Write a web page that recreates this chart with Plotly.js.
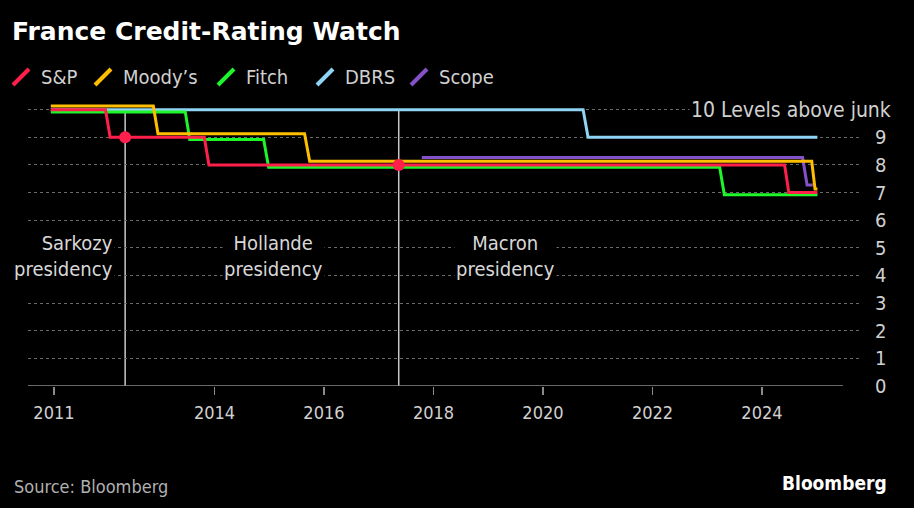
<!DOCTYPE html>
<html>
<head>
<meta charset="utf-8">
<script src="https://cdn.plot.ly/plotly-3.0.1.min.js"></script>
<style>
html,body{margin:0;padding:0;background:#000;}
#chart{width:914px;height:508px;}
</style>
</head>
<body>
<div id="chart"></div>
<script>
// ---- Data ----
const seriesNames = ['S&P', 'Moody\u2019s', 'Fitch', 'DBRS', 'Scope'];

const spDates = ['2011-01-05','2012-01-05','2012-02-05','2013-10-25','2013-11-25','2024-05-31','2024-06-28','2025-01-05'];
const spValues = [10,10,9,9,8,8,7,7];

const moodysDates = ['2011-01-05','2012-11-19','2012-12-20','2015-08-25','2015-09-28','2024-11-28','2024-12-20','2025-01-05'];
const moodysValues = [10,10,9,9,8,8,7,7];

const fitchDates = ['2011-01-05','2013-06-20','2013-07-20','2014-11-25','2014-12-28','2023-03-25','2023-04-25','2025-01-05'];
const fitchValues = [10,10,9,9,8,8,7,7];

const dbrsDates = ['2011-01-05','2020-09-25','2020-10-28','2025-01-05'];
const dbrsValues = [10,10,9,9];

const scopeDates = ['2017-10-15','2024-09-28','2024-10-28','2024-12-05'];
const scopeValues = [8,8,7,7];

const presidencyNames = ['Sarkozy<br>presidency', 'Hollande<br>presidency', 'Macron<br>presidency'];
const presidencyStarts = ['2012-05-15', '2017-05-14'];
const presidencyMarkerValues = [9, 8]; // S&P rating at each change of president

const xTickVals = ['2011-01-26','2014-01-01','2016-01-01','2018-01-01','2020-01-01','2022-01-01','2024-01-01'];
const xTickText = ['2011','2014','2016','2018','2020','2022','2024'];
const yTickVals = [0,1,2,3,4,5,6,7,8,9,10];
const yTickText = ['0','1','2','3','4','5','6','7','8','9',''];

// ---- Styles ----
const colors = ['#ff1f4b', '#ffbf00', '#1ef52a', '#8fd3f5', '#8352c8'];
const offsets = [0.0, 0.13, -0.08, 0.0, 0.27]; // small visual separation of overlapping lines
const FONT = 'DejaVu Sans Condensed, Liberation Sans Narrow, DejaVu Sans, sans-serif';
const L = 28, R = 860, T = 100, B = 386;
const px = x => (x - L) / (R - L);
const py = y => (B - y) / (B - T);

const seriesData = [
  [spDates, spValues],
  [moodysDates, moodysValues],
  [fitchDates, fitchValues],
  [dbrsDates, dbrsValues],
  [scopeDates, scopeValues]
];
const drawOrder = [3, 4, 2, 1, 0];

const traces = drawOrder.map(i => ({
  type: 'scatter', mode: 'lines',
  x: seriesData[i][0],
  y: seriesData[i][1].map(v => v + offsets[i]),
  line: {color: colors[i], width: 3, shape: 'linear'},
  hoverinfo: 'skip', showlegend: false
}));
traces.push({
  type: 'scatter', mode: 'markers',
  x: presidencyStarts,
  y: presidencyMarkerValues.map(v => v + offsets[0]),
  marker: {color: colors[0], size: 12},
  hoverinfo: 'skip', showlegend: false
});

const shapes = [];
presidencyStarts.forEach(d => {
  shapes.push({type: 'line', xref: 'x', yref: 'y', x0: d, x1: d, y0: 0, y1: 10,
    line: {color: '#c8c8c8', width: 1.5}, layer: 'below'});
});
// x axis baseline
shapes.push({type: 'line', xref: 'paper', yref: 'y', x0: 0, x1: px(843), y0: 0, y1: 0,
  line: {color: '#8a8a8a', width: 1.5}});

const legendX = [13, 95, 218, 317, 411];
const annotations = [];
seriesNames.forEach((n, i) => {
  shapes.push({type: 'line', xref: 'paper', yref: 'paper',
    x0: px(legendX[i]), x1: px(legendX[i] + 16), y0: py(85), y1: py(69),
    line: {color: colors[i], width: 4}});
  annotations.push({xref: 'paper', yref: 'paper', x: px(legendX[i] + 26), y: py(77),
    xanchor: 'left', yanchor: 'middle', showarrow: false, text: n,
    font: {family: FONT, size: 20, color: '#d0d0d0'}});
});

annotations.push({xref: 'paper', yref: 'y', x: px(893), y: 10, xanchor: 'right', yanchor: 'middle',
  showarrow: false, text: '10 Levels above junk', bgcolor: '#000', borderpad: 1,
  font: {family: FONT, size: 21, color: '#d0d0d0'}});

const presX = [115, 273, 506];
const presAnchor = ['right', 'center', 'center'];
presidencyNames.forEach((t, i) => {
  annotations.push({xref: 'paper', yref: 'paper', x: px(presX[i]), y: py(256), xanchor: presAnchor[i],
    yanchor: 'middle', align: presAnchor[i], showarrow: false, text: t, bgcolor: '#000', borderpad: 1,
    font: {family: FONT, size: 20, color: '#d8d8d8'}});
});

annotations.push({xref: 'paper', yref: 'paper', x: px(12), y: py(486), xanchor: 'left', yanchor: 'middle',
  showarrow: false, text: 'Source: Bloomberg', font: {family: FONT, size: 18, color: '#b0b0b0'}});
annotations.push({xref: 'paper', yref: 'paper', x: px(889), y: py(483), xanchor: 'right', yanchor: 'middle',
  showarrow: false, text: '<b>Bloomberg</b>', font: {family: FONT, size: 19, color: '#ffffff'}});

const layout = {
  width: 914, height: 508,
  paper_bgcolor: '#000', plot_bgcolor: '#000',
  margin: {l: L, r: 914 - R, t: T, b: 508 - B, pad: 0},
  showlegend: false,
  title: {text: '<b>France Credit-Rating Watch</b>', x: 12 / 914, xanchor: 'left', xref: 'container',
    y: 1 - 31 / 508, yanchor: 'middle', yref: 'container',
    font: {family: 'DejaVu Sans, sans-serif', size: 25, color: '#ffffff'}},
  xaxis: {
    type: 'date', range: ['2010-08-06', '2025-10-16'],
    tickvals: xTickVals, ticktext: xTickText,
    ticks: 'outside', ticklen: 8, tickwidth: 1.5, tickcolor: '#8a8a8a',
    ticklabelstandoff: 2,
    showgrid: false, zeroline: false, showline: false,
    tickfont: {family: FONT, size: 18, color: '#d0d0d0'},
    fixedrange: true
  },
  yaxis: {
    side: 'right', range: [0, 10.35],
    tickvals: yTickVals, ticktext: yTickText,
    ticks: 'outside', ticklen: 10, tickcolor: 'rgba(0,0,0,0)',
    showgrid: true, gridcolor: '#6a6a6a', griddash: 'dot', gridwidth: 1,
    zeroline: false, showline: false,
    tickfont: {family: FONT, size: 20, color: '#d0d0d0'},
    fixedrange: true
  },
  shapes: shapes,
  annotations: annotations
};

Plotly.newPlot('chart', traces, layout, {displayModeBar: false, staticPlot: true});
</script>
</body>
</html>
